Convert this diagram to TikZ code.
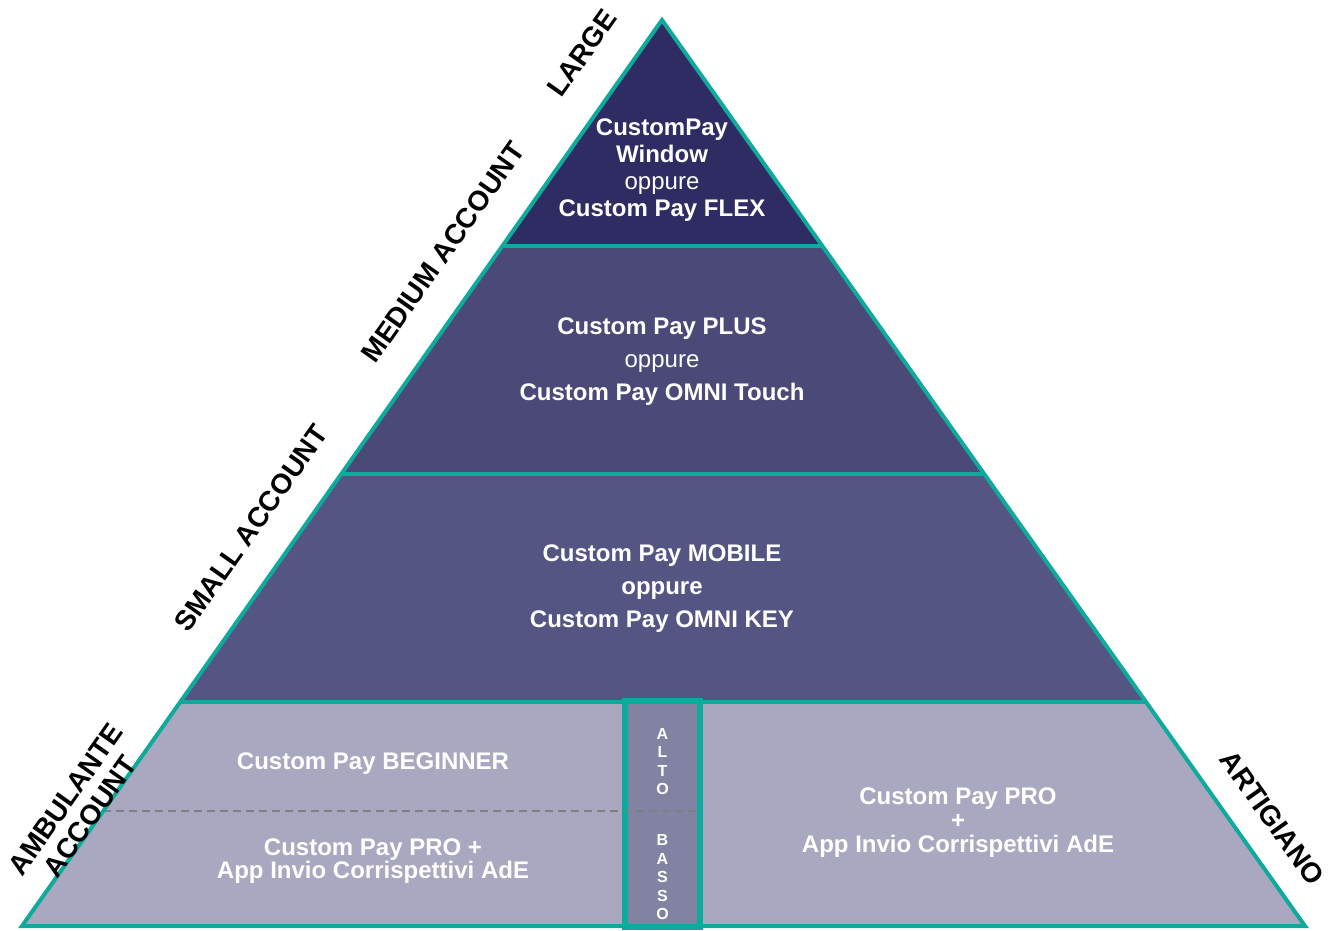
\documentclass[tikz,border=0pt]{standalone}
\usepackage{fontspec}
\setmainfont{Liberation Sans}
\usepackage{xcolor}
\usetikzlibrary{calc, positioning}
\definecolor{pyrteal}{HTML}{0EAA9C}
\definecolor{tierA}{HTML}{2E2C63}
\definecolor{tierB}{HTML}{4A4978}
\definecolor{tierC}{HTML}{555583}
\definecolor{tierD}{HTML}{A9A8C0}
\definecolor{colfill}{HTML}{8282A3}
\tikzstyle{edge} = [draw=pyrteal, line width=4pt, line join=miter]
\tikzstyle{divider} = [draw=black!50, line width=1.8pt, dash pattern=on 8pt off 5pt]
\tikzstyle{colbox} = [rectangle, draw=pyrteal, line width=4pt, fill=colfill, inner sep=0pt]
\tikzstyle{tiertext} = [text=white, align=center, inner sep=0pt, font=\fontsize{24}{27}\selectfont\bfseries]
\tikzstyle{sidetext} = [text=black, align=center, inner sep=0pt, font=\fontsize{28}{30}\selectfont\bfseries]
\tikzstyle{colletter} = [text=white, align=center, inner sep=0pt, font=\fontsize{16}{18.5}\selectfont\bfseries]

\begin{document}
\begin{tikzpicture}[x=1pt, y=-1pt]
    \useasboundingbox (0,0) rectangle (1331,930);

    % --- Punti della piramide ---
    \coordinate (apex) at (662,20);
    \coordinate (bl) at (22,926);
    \coordinate (br) at (1305,926);
    \coordinate (l1) at ($(apex)!0.2494!(bl)$);
    \coordinate (r1) at ($(apex)!0.2494!(br)$);
    \coordinate (l2) at ($(apex)!0.5011!(bl)$);
    \coordinate (r2) at ($(apex)!0.5011!(br)$);
    \coordinate (l3) at ($(apex)!0.7528!(bl)$);
    \coordinate (r3) at ($(apex)!0.7528!(br)$);
    \coordinate (ld) at ($(apex)!0.8731!(bl)$);

    % --- Fasce ---
    \fill [tierA] (apex) -- (r1) -- (l1) -- cycle;
    \fill [tierB] (l1) -- (r1) -- (r2) -- (l2) -- cycle;
    \fill [tierC] (l2) -- (r2) -- (r3) -- (l3) -- cycle;
    \fill [tierD] (l3) -- (r3) -- (br) -- (bl) -- cycle;

    % Colonna alto / basso
    \node (col) [colbox, minimum width=73pt, minimum height=224pt] at (662.5,814) {};
    \node (alto) [colletter, below=28pt of col.north] {A\\L\\T\\O};
    \node (basso) [colletter, above=8pt of col.south] {B\\A\\S\\S\\O};

    % --- Linee ---
    \draw [divider] (ld) -- (col.east |- ld);
    \draw [edge] (l1) -- (r1);
    \draw [edge] (l2) -- (r2);
    \draw [edge] (l3) -- (r3);
    \draw [edge] (col.north west) rectangle (col.south east);
    \draw [edge] (apex) -- (br) -- (bl) -- cycle;

    % --- Testi delle fasce ---
    \node (window) [tiertext] at (662,170) {CustomPay\\Window\\{\mdseries oppure}\\Custom Pay FLEX};
    \node (plus) [tiertext, font=\fontsize{24}{33}\selectfont\bfseries] at (662,362) {Custom Pay PLUS\\{\mdseries oppure}\\Custom Pay OMNI Touch};
    \node (mobile) [tiertext, font=\fontsize{24}{33}\selectfont\bfseries] at (662,589) {Custom Pay MOBILE\\oppure\\Custom Pay OMNI KEY};
    \node (beginner) [tiertext] at (373,764) {Custom Pay BEGINNER};
    \node (proamb) [tiertext, font=\fontsize{24}{23}\selectfont\bfseries] at (373,861) {Custom Pay PRO +\\App Invio Corrispettivi AdE};
    \node (proart) [tiertext, font=\fontsize{24}{24}\selectfont\bfseries] at (958,823) {Custom Pay PRO\\+\\App Invio Corrispettivi AdE};

    % --- Etichette laterali ---
    \node (large) [sidetext, rotate=54.8] at (582,53) {LARGE};
    \node (medium) [sidetext, rotate=54.8] at (443,252) {MEDIUM ACCOUNT};
    \node (small) [sidetext, rotate=54.8] at (251,528) {SMALL ACCOUNT};
    \node (ambulante) [sidetext, rotate=54.8] at (78,808) {AMBULANTE\\ACCOUNT};
    \node (artigiano) [sidetext, rotate=-54.6] at (1272,818) {ARTIGIANO};

\end{tikzpicture}
\end{document}
